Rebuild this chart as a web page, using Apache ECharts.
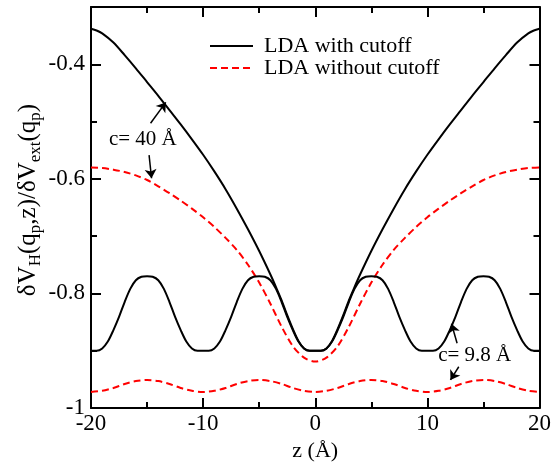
<!DOCTYPE html>
<html><head><meta charset="utf-8">
<script src="https://cdn.jsdelivr.net/npm/echarts@6/dist/echarts.min.js"></script>
<style>html,body{margin:0;padding:0;background:#fff}#c{width:554px;height:467px}</style>
</head><body><div id="c"></div>
<script>
const FONT = 'Liberation Serif';
const seriesNames = ['LDA with cutoff', 'LDA without cutoff'];

const xTickValues = [-20, -10, 0, 10, 20];
const xTickLabels = ['-20', '-10', '0', '10', '20'];
const yTickValues = [-1, -0.8, -0.6, -0.4];
const yTickLabels = ['-1', '-0.8', '-0.6', '-0.4'];

// c = 40 Å, LDA with cutoff (black solid)
const z40 = [-20, -19.5, -19, -18, -17, -16, -15, -14, -13, -12, -11, -10, -9, -8, -7, -6, -5, -4, -3.5, -3, -2.5, -2, -1.5, -1, -0.5, 0,
  0.5, 1, 1.5, 2, 2.5, 3, 3.5, 4, 5, 6, 7, 8, 9, 10, 11, 12, 13, 14, 15, 16, 17, 18, 19, 19.5, 20];
const withCut40 = [-0.338, -0.341, -0.346, -0.362, -0.384, -0.407, -0.431, -0.455, -0.480, -0.505, -0.531, -0.558, -0.587, -0.618, -0.652, -0.688, -0.726, -0.767, -0.789, -0.812, -0.838, -0.862, -0.883, -0.896, -0.900, -0.900,
  -0.900, -0.896, -0.883, -0.862, -0.838, -0.812, -0.789, -0.767, -0.726, -0.688, -0.652, -0.618, -0.587, -0.558, -0.531, -0.505, -0.480, -0.455, -0.431, -0.407, -0.384, -0.362, -0.346, -0.341, -0.338];

// integer grid
const zInt = [-20, -19, -18, -17, -16, -15, -14, -13, -12, -11, -10, -9, -8, -7, -6, -5, -4, -3, -2, -1, 0,
  1, 2, 3, 4, 5, 6, 7, 8, 9, 10, 11, 12, 13, 14, 15, 16, 17, 18, 19, 20];
// c = 40 Å, LDA without cutoff (red dashed)
const noCut40 = [-0.580, -0.581, -0.584, -0.588, -0.594, -0.602, -0.613, -0.625, -0.638, -0.652, -0.667, -0.684, -0.703, -0.724, -0.750, -0.781, -0.818, -0.858, -0.892, -0.912, -0.919,
  -0.912, -0.892, -0.858, -0.818, -0.781, -0.750, -0.724, -0.703, -0.684, -0.667, -0.652, -0.638, -0.625, -0.613, -0.602, -0.594, -0.588, -0.584, -0.581, -0.580];
// c = 9.8 Å, LDA without cutoff (red dashed)
const noCut98 = [-0.972, -0.970, -0.965, -0.958, -0.953, -0.951, -0.953, -0.958, -0.965, -0.970, -0.972, -0.970, -0.965, -0.958, -0.953, -0.951, -0.953, -0.958, -0.965, -0.970, -0.972,
  -0.970, -0.965, -0.958, -0.953, -0.951, -0.953, -0.958, -0.965, -0.970, -0.972, -0.970, -0.965, -0.958, -0.953, -0.951, -0.953, -0.958, -0.965, -0.970, -0.972];

// half grid
const zHalf = [-20, -19.5, -19, -18.5, -18, -17.5, -17, -16.5, -16, -15.5, -15, -14.5, -14, -13.5, -13, -12.5, -12, -11.5, -11, -10.5,
  -10, -9.5, -9, -8.5, -8, -7.5, -7, -6.5, -6, -5.5, -5, -4.5, -4, -3.5, -3, -2.5, -2, -1.5, -1, -0.5,
  0, 0.5, 1, 1.5, 2, 2.5, 3, 3.5, 4, 4.5, 5, 5.5, 6, 6.5, 7, 7.5, 8, 8.5, 9, 9.5,
  10, 10.5, 11, 11.5, 12, 12.5, 13, 13.5, 14, 14.5, 15, 15.5, 16, 16.5, 17, 17.5, 18, 18.5, 19, 19.5, 20];
// c = 9.8 Å, LDA with cutoff (black solid)
const withCut98 = [-0.900, -0.900, -0.896, -0.884, -0.864, -0.841, -0.815, -0.792, -0.777, -0.771, -0.770, -0.771, -0.777, -0.792, -0.815, -0.841, -0.864, -0.884, -0.896, -0.900,
  -0.900, -0.900, -0.896, -0.884, -0.864, -0.841, -0.815, -0.792, -0.777, -0.771, -0.770, -0.771, -0.777, -0.792, -0.815, -0.841, -0.864, -0.884, -0.896, -0.900,
  -0.900, -0.900, -0.896, -0.884, -0.864, -0.841, -0.815, -0.792, -0.777, -0.771, -0.770, -0.771, -0.777, -0.792, -0.815, -0.841, -0.864, -0.884, -0.896, -0.900,
  -0.900, -0.900, -0.896, -0.884, -0.864, -0.841, -0.815, -0.792, -0.777, -0.771, -0.770, -0.771, -0.777, -0.792, -0.815, -0.841, -0.864, -0.884, -0.896, -0.900, -0.900];

// annotations (data coordinates)
const annotTexts = ['c= 40 Å', 'c= 9.8 Å'];
const annotPos = [[-15.38, -0.532], [14.22, -0.9075]];
const arrows = [
  [[-14.69, -0.503], [-13.33, -0.4665]],
  [[-14.82, -0.5585], [-14.6, -0.599]],
  [[12.65, -0.887], [12.15, -0.853]],
  [[12.8, -0.928], [12.06, -0.951]]
];

const zip = (xs, ys) => xs.map((x, i) => [x, ys[i]]);
const fmtY = v => { const i = yTickValues.findIndex(t => Math.abs(t - v) < 1e-9); return i >= 0 ? yTickLabels[i] : ''; };
const fmtX = v => { const i = xTickValues.findIndex(t => Math.abs(t - v) < 1e-9); return i >= 0 ? xTickLabels[i] : ''; };

const chart = echarts.init(document.getElementById('c'), null, { renderer: 'canvas' });

const lineBlack = { color: '#000', width: 2, type: 'solid' };
const lineRed = { color: '#ff0000', width: 2, type: [7, 4] };

const baseX = {
  type: 'value', min: -20, max: 20, interval: 10,
  axisLine: { show: true, onZero: false, lineStyle: { color: '#000', width: 2 } },
  axisTick: { show: true, inside: true, length: 10, lineStyle: { color: '#000', width: 2 } },
  minorTick: { show: true, splitNumber: 2, length: 6, lineStyle: { color: '#000', width: 2 } },
  splitLine: { show: false }, minorSplitLine: { show: false }
};
const majorY = {
  type: 'value', min: -1, max: -0.3, interval: 0.2,
  axisLine: { show: true, onZero: false, lineStyle: { color: '#000', width: 2 } },
  axisTick: { show: true, inside: true, length: 10, lineStyle: { color: '#000', width: 2 } },
  splitLine: { show: false }
};
const minorY = {
  type: 'value', min: -1, max: -0.3, interval: 0.1,
  axisLine: { show: false, onZero: false },
  axisTick: { show: true, inside: true, length: 6, lineStyle: { color: '#000', width: 2 } },
  axisLabel: { show: false },
  splitLine: { show: false }
};

const option = {
  animation: false,
  backgroundColor: '#fff',
  grid: { left: 91, right: 13, top: 7, bottom: 59, containLabel: false },
  legend: {
    orient: 'vertical', left: 204, top: 30,
    data: seriesNames,
    itemWidth: 43, itemHeight: 14, itemGap: 0,
    itemStyle: { opacity: 0, borderWidth: 0 },
    textStyle: { fontFamily: FONT, fontSize: 22, color: '#000', lineHeight: 22, padding: [0, 0, 0, 6] },
    selectedMode: false
  },
  xAxis: [
    Object.assign({}, baseX, {
      position: 'bottom',
      axisLabel: { show: true, margin: 4, fontFamily: FONT, fontSize: 23, color: '#000', formatter: fmtX },
      name: 'z (Å)', nameLocation: 'middle', nameGap: 32,
      nameTextStyle: { fontFamily: FONT, fontSize: 22, color: '#000' }
    }),
    Object.assign({}, baseX, { position: 'top', axisLabel: { show: false } })
  ],
  yAxis: [
    Object.assign({}, majorY, {
      position: 'left',
      axisLabel: { show: true, margin: 6, fontFamily: FONT, fontSize: 23, color: '#000', formatter: fmtY, showMaxLabel: false }
    }),
    Object.assign({}, minorY, { position: 'left' }),
    Object.assign({}, majorY, { position: 'right', axisLabel: { show: false } }),
    Object.assign({}, minorY, { position: 'right' })
  ],
  series: [
    {
      name: seriesNames[0], type: 'line', data: zip(z40, withCut40),
      showSymbol: false, symbol: 'none', smooth: 0.3, lineStyle: lineBlack, itemStyle: { color: '#000' },
      z: 3,
      markLine: {
        silent: true, symbol: ['none', 'arrow'], symbolSize: 9, label: { show: false },
        lineStyle: { color: '#000', width: 1.5, type: 'solid' },
        itemStyle: { color: '#000' },
        emphasis: { disabled: true },
        data: arrows.map(a => [{ coord: a[0] }, { coord: a[1] }])
      }
    },
    {
      name: seriesNames[1], type: 'line', data: zip(zInt, noCut40),
      showSymbol: false, symbol: 'none', smooth: 0.3, lineStyle: lineRed, itemStyle: { color: '#ff0000' }, z: 2
    },
    {
      name: seriesNames[0], type: 'line', data: zip(zHalf, withCut98),
      showSymbol: false, symbol: 'none', smooth: 0.3, lineStyle: lineBlack, itemStyle: { color: '#000' }, z: 3
    },
    {
      name: seriesNames[1], type: 'line', data: zip(zInt, noCut98),
      showSymbol: false, symbol: 'none', smooth: 0.3, lineStyle: lineRed, itemStyle: { color: '#ff0000' }, z: 2
    }
  ]
};
chart.setOption(option);

const graphics = [{
  type: 'text', x: 28, y: 200, rotation: Math.PI / 2,
  style: {
    text: '{m|δV}{s|H}{m|(q}{s|p}{m|,z)/δV}{s|ext}{m|(q}{s|p}{m|)}',
    rich: {
      m: { fontFamily: FONT, fontSize: 25, lineHeight: 33, fill: '#000' },
      s: { fontFamily: FONT, fontSize: 17, lineHeight: 17, verticalAlign: 'bottom', fill: '#000' }
    },
    align: 'center', verticalAlign: 'middle', fill: '#000'
  }
}];
annotTexts.forEach((t, i) => {
  const p = chart.convertToPixel({ xAxisIndex: 0, yAxisIndex: 0 }, annotPos[i]);
  graphics.push({
    type: 'text', x: p[0], y: p[1],
    style: { text: t, fontFamily: FONT, fontSize: 21, fill: '#000', align: 'center', verticalAlign: 'middle' }
  });
});
chart.setOption({ graphic: graphics });
</script>
</body></html>
